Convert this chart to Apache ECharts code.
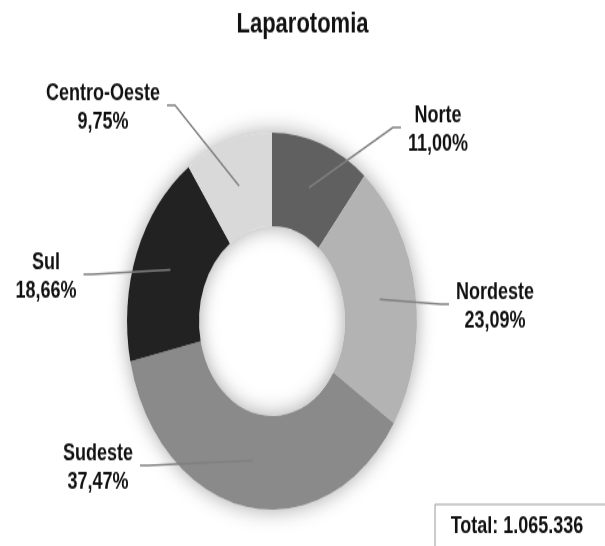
<!DOCTYPE html>
<html>
<head>
<meta charset="utf-8">
<script src="https://cdn.jsdelivr.net/npm/echarts@6/dist/echarts.min.js"></script>
<style>
html, body { margin: 0; background: #fff; width: 605px; height: 546px; }
#wrap { position: relative; width: 605px; height: 546px; }
/* o gráfico original está esticado na vertical */
#main { position: absolute; left: 0; top: 0; width: 605px; height: 420px; transform: scaleY(1.3); transform-origin: 0 0; }
</style>
</head>
<body>
<div id="wrap"><div id="main"></div></div>
<script>
var titulo = 'Laparotomia';
var regioes = ['Norte', 'Nordeste', 'Sudeste', 'Sul', 'Centro-Oeste'];
var percentuais = [11.00, 23.09, 37.47, 18.66, 9.75];
var total = '1.065.336';

var cores = ['#606060', '#b3b3b3', '#8a8a8a', '#222222', '#d9d9d9'];
var fonte = "'Liberation Sans', Arial, sans-serif";

var cx = 272, cy = 247, rOut = 145, rIn = 73, rMid = 109;
// centro de cada rótulo (antes da escala vertical)
var posRotulo = {
    'Norte': [438, 100],
    'Nordeste': [495, 236],
    'Sudeste': [98, 360],
    'Sul': [46, 213],
    'Centro-Oeste': [103, 83]
};

// ponto no meio do anel de cada fatia, onde começa a linha do rótulo
var soma = percentuais.reduce(function (a, b) { return a + b; }, 0);
var acum = 0;
var ancoras = percentuais.map(function (v) {
    var t = (acum + v / 2) / soma * 2 * Math.PI;
    acum += v;
    return [cx + rMid * Math.sin(t), cy - rMid * Math.cos(t)];
});

function fmt(v) { return v.toFixed(2).replace('.', ',') + '%'; }

var dados = regioes.map(function (n, i) {
    return { name: n, value: percentuais[i], itemStyle: { color: cores[i] } };
});

var myChart = echarts.init(document.getElementById('main'));
var option = {
    animation: false,
    title: {
        text: titulo,
        left: 'center',
        top: 3,
        textStyle: { fontFamily: fonte, fontSize: 22, fontWeight: 'bold', color: '#111' }
    },
    series: [
        {
            // anel de fundo só para a sombra
            type: 'pie',
            silent: true,
            radius: [rIn, rOut],
            center: [cx, cy],
            z: 1,
            label: { show: false },
            labelLine: { show: false },
            itemStyle: { color: '#fff', shadowBlur: 18, shadowColor: 'rgba(0,0,0,0.35)' },
            data: [{ value: 1 }]
        },
        {
            type: 'pie',
            radius: [rIn, rOut],
            center: [cx, cy],
            startAngle: 90,
            z: 2,
            itemStyle: { borderWidth: 0 },
            label: { show: false },
            labelLine: { show: false },
            data: dados
        },
        {
            // mesma pizza, transparente, só para os rótulos ficarem por cima
            type: 'pie',
            silent: true,
            radius: [rIn, rOut],
            center: [cx, cy],
            startAngle: 90,
            z: 3,
            itemStyle: { color: 'rgba(0,0,0,0)', borderWidth: 0 },
            data: dados.map(function (d) { return { name: d.name, value: d.value }; }),
            label: {
                show: true,
                position: 'outside',
                formatter: function (p) { return p.name + '\n' + fmt(p.value); },
                fontFamily: fonte,
                fontSize: 18,
                fontWeight: 'bold',
                color: '#111',
                lineHeight: 22,
                align: 'center'
            },
            labelLine: { show: true, lineStyle: { color: '#808080', width: 1.5 } },
            labelLayout: function (p) {
                var pos = posRotulo[regioes[p.dataIndex]];
                var a = ancoras[p.dataIndex];
                var dir = pos[0] > cx ? -1 : 1;
                var ex = pos[0] + dir * (p.labelRect.width / 2 + 7);
                var ey = pos[1] - 2;
                return {
                    x: pos[0],
                    y: pos[1],
                    align: 'center',
                    verticalAlign: 'middle',
                    labelLinePoints: [a, [ex + dir * 8, ey], [ex, ey]]
                };
            }
        }
    ],
    graphic: [
        {
            type: 'rect',
            x: 435, y: 388,
            shape: { width: 190, height: 60 },
            style: { fill: '#fff', stroke: '#999', lineWidth: 1 }
        },
        {
            type: 'text',
            x: 517, y: 405,
            style: {
                text: 'Total: ' + total,
                font: 'bold 18px ' + fonte,
                fill: '#111',
                align: 'center',
                verticalAlign: 'middle'
            }
        }
    ]
};
myChart.setOption(option);
</script>
</body>
</html>
